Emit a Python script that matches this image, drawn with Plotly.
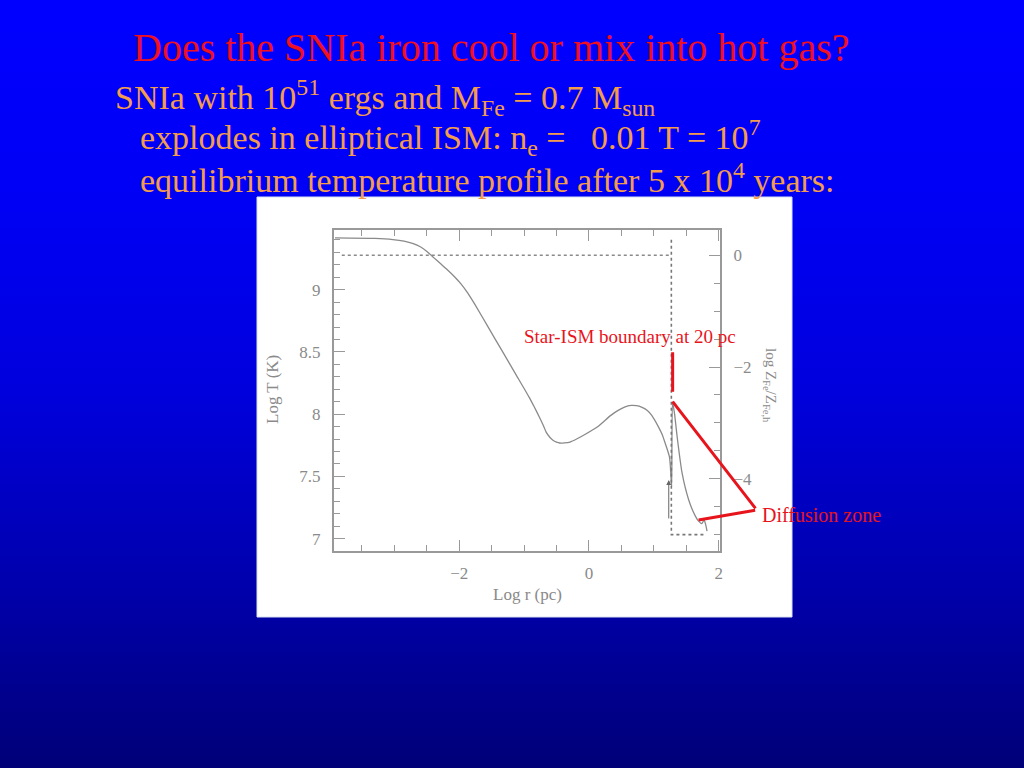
import plotly.graph_objects as go
import numpy as np

# ---------------- data ----------------
log_r = [-3.915, -3.300, -3.023, -2.850, -2.708, -2.600, -2.498, -2.393, -2.290,
         -2.183, -2.080, -1.973, -1.870, -1.763, -1.553,
         -1.343, -1.132, -0.923, -0.840, -0.765, -0.700, -0.660, -0.600, -0.555,
         -0.500, -0.450, -0.380, -0.292, -0.190, -0.083,
         0.128, 0.337, 0.450, 0.548, 0.652, 0.730, 0.810, 0.900, 0.968, 1.073,
         1.130, 1.178, 1.241, 1.262,
         1.275, 1.288, 1.320, 1.359, 1.436, 1.538, 1.640, 1.690, 1.740, 1.775, 1.800, 1.820]
log_T = [9.416, 9.412, 9.403, 9.390, 9.370, 9.345, 9.308, 9.258, 9.210,
         9.160, 9.108, 9.047, 8.975, 8.886, 8.699,
         8.512, 8.324, 8.137, 8.055, 7.977, 7.905, 7.856, 7.812, 7.790,
         7.775, 7.768, 7.769, 7.776, 7.800, 7.830,
         7.896, 7.990, 8.030, 8.057, 8.070, 8.068, 8.057, 8.030, 7.990, 7.896,
         7.835, 7.762, 7.656, 7.520,
         7.420, 8.100, 8.000, 7.820, 7.525, 7.310, 7.180, 7.140, 7.120, 7.150, 7.110, 7.060]

# iron abundance profile (right axis, log Z_Fe/Z_Fe,h)
z_top_r = [-3.81, 1.27]
z_top = [0.0, 0.0]
z_edge_r = [1.27, 1.27, 1.81]
z_edge = [0.28, -5.0, -5.0]

# arrow marking the boundary (log r, log T)
arrow_r = 1.23
arrow_T0, arrow_T1 = 7.15, 7.47

# red call-outs (log r, log T)
boundary_r = 1.29
boundary_T = [8.51, 8.18]
diff_tip = (2.585, 7.23)
diff_pts = [(1.29, 8.10), (1.69, 7.15)]

x_ticks = [-2, 0, 2]
x_tick_text = ["\u22122", "0", "2"]
y_ticks = [7, 7.5, 8, 8.5, 9]
y_tick_text = ["7", "7.5", "8", "8.5", "9"]
z_ticks = [0, -2, -4]
z_tick_text = ["0", "\u22122", "\u22124"]

title = "Does the SNIa iron cool or mix into hot gas?"
lines = [
    "SNIa with 10<sup>51</sup> ergs and M<sub>Fe</sub> = 0.7 M<sub>sun</sub>",
    "explodes in elliptical ISM: n<sub>e</sub> =&nbsp;&nbsp;&nbsp;0.01 T = 10<sup>7</sup>",
    "equilibrium temperature profile after 5 x 10<sup>4</sup> years:",
]

# ---------------- geometry ----------------
W, H = 1024, 768
L, R, T, B = 334, 304, 230, 217
PW, PH = W - L - R, H - T - B


def px(x):
    return (x - L) / PW


def py(y):
    return (H - B - y) / PH


GRAY = "#8a8a8a"
SERIF = "Liberation Serif, Times New Roman, serif"

fig = go.Figure()

fig.add_trace(go.Scatter(x=log_r, y=log_T, mode="lines",
                         line=dict(color=GRAY, width=1.3, shape="spline", smoothing=0.6),
                         showlegend=False, hoverinfo="skip"))
fig.add_trace(go.Scatter(x=z_top_r, y=z_top, mode="lines", yaxis="y2",
                         line=dict(color=GRAY, width=1.6, dash="dot"),
                         showlegend=False, hoverinfo="skip"))
fig.add_trace(go.Scatter(x=z_edge_r, y=z_edge, mode="lines", yaxis="y2",
                         line=dict(color="#777777", width=1.6, dash="dot"),
                         showlegend=False, hoverinfo="skip"))

shapes = []
# slide background gradient
stops_y = [0, 200, 395, 600, 768]
stops_b = [255, 245, 220, 168, 120]
band = 4
for y0 in range(0, H, band):
    b = int(round(np.interp(y0 + band / 2, stops_y, stops_b)))
    shapes.append(dict(type="rect", xref="paper", yref="paper",
                       x0=px(0), x1=px(W), y0=py(y0 + band), y1=py(y0),
                       fillcolor=f"rgb(0,0,{b})", line=dict(width=0), layer="below"))
# white picture frame
shapes.append(dict(type="rect", xref="paper", yref="paper",
                   x0=px(257), x1=px(792), y0=py(617), y1=py(197),
                   fillcolor="white", line=dict(width=1, color="#d8e0f0"), layer="below"))

annotations = []
annotations.append(dict(x=px(131), y=py(47), xref="paper", yref="paper",
                        text=title, showarrow=False, xanchor="left", yanchor="middle",
                        font=dict(family=SERIF, size=40, color="#F01020")))
for t, xl, yc in zip(lines, [113, 138, 138], [97, 137, 178]):
    annotations.append(dict(x=px(xl), y=py(yc), xref="paper", yref="paper",
                            text=t, showarrow=False, xanchor="left", yanchor="middle",
                            font=dict(family=SERIF, size=34, color="#F39C4C")))

# axis titles
annotations.append(dict(x=px(272), y=py(390), xref="paper", yref="paper",
                        xanchor="center", yanchor="middle",
                        text="Log T (K)", textangle=-90, showarrow=False,
                        font=dict(family=SERIF, size=17, color=GRAY)))
annotations.append(dict(x=px(527), y=py(594), xref="paper", yref="paper",
                        xanchor="center", yanchor="middle",
                        text="Log r (pc)", showarrow=False,
                        font=dict(family=SERIF, size=17, color=GRAY)))
annotations.append(dict(x=px(770), y=py(385), xref="paper", yref="paper",
                        xanchor="center", yanchor="middle",
                        text="log Z<sub>Fe</sub>/Z<sub>Fe,h</sub>", textangle=90,
                        showarrow=False,
                        font=dict(family=SERIF, size=15, color=GRAY)))

# small arrow in the original figure
annotations.append(dict(x=arrow_r, y=arrow_T1, ax=arrow_r, ay=arrow_T0,
                        xref="x", yref="y", axref="x", ayref="y", text="",
                        showarrow=True, arrowhead=2, arrowsize=1, arrowwidth=1,
                        arrowcolor="#666666", standoff=0, startstandoff=0))

# red call-outs
RED = "#E8141C"
annotations.append(dict(x=boundary_r, y=boundary_T[1], ax=boundary_r, ay=boundary_T[0],
                        xref="x", yref="y", axref="x", ayref="y", text="",
                        showarrow=True, arrowhead=0, arrowwidth=3, arrowcolor=RED,
                        standoff=0, startstandoff=0))
for (xr, yr) in diff_pts:
    annotations.append(dict(x=xr, y=yr, ax=diff_tip[0], ay=diff_tip[1],
                            xref="x", yref="y", axref="x", ayref="y", text="",
                            showarrow=True, arrowhead=0, arrowwidth=3, arrowcolor=RED,
                            standoff=0, startstandoff=0))
annotations.append(dict(x=px(522), y=py(336), xref="paper", yref="paper",
                        text="Star-ISM boundary at 20 pc", showarrow=False,
                        xanchor="left", yanchor="middle",
                        font=dict(family=SERIF, size=19, color=RED)))
annotations.append(dict(x=px(760), y=py(515), xref="paper", yref="paper",
                        text="Diffusion zone", showarrow=False,
                        xanchor="left", yanchor="middle",
                        font=dict(family=SERIF, size=20, color=RED)))

axis_common = dict(showgrid=False, zeroline=False, ticks="inside",
                   tickcolor="#999999", tickwidth=1.3, ticklen=11,
                   tickfont=dict(family=SERIF, size=17, color=GRAY),
                   linecolor="#999999", linewidth=2, showline=True)

fig.update_layout(
    width=W, height=H, autosize=False,
    margin=dict(l=L, r=R, t=T, b=B, pad=0),
    paper_bgcolor="#0000c0", plot_bgcolor="white",
    shapes=shapes, annotations=annotations,
    xaxis=dict(range=[-3.93, 2.02], tickvals=x_ticks, ticktext=x_tick_text,
               mirror="ticks",
               minor=dict(dtick=0.5, tick0=0, ticks="inside", ticklen=6,
                          tickcolor="#999999"),
               ticklabelstandoff=6, **axis_common),
    yaxis=dict(range=[6.9, 9.48], tickvals=y_ticks, ticktext=y_tick_text,
               mirror=True,
               minor=dict(dtick=0.1, tick0=7, ticks="inside", ticklen=6,
                          tickcolor="#999999"),
               ticklabelstandoff=8, **axis_common),
    yaxis2=dict(range=[-5.294, 0.453], overlaying="y", side="right",
                tickvals=z_ticks, ticktext=z_tick_text,
                minor=dict(dtick=0.5, tick0=0, ticks="inside", ticklen=6,
                           tickcolor="#999999"),
                ticklabelstandoff=8, **axis_common),
)

fig.write_html("out.html", config={"displayModeBar": False},
               post_script="document.body.style.margin='0';document.body.style.padding='0';")
